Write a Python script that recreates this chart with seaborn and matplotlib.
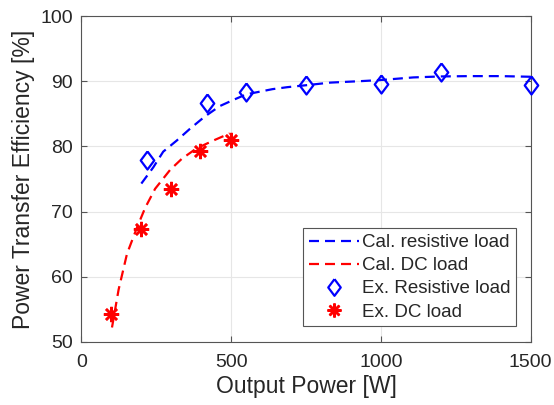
import numpy as np
import pandas as pd
import seaborn as sns
import matplotlib.pyplot as plt
from matplotlib.lines import Line2D

# calculated curves
cal_res_power = [200, 240, 273, 318, 362, 412, 462, 505, 550, 638, 687, 750, 830, 941, 1000, 1108, 1200, 1298, 1400, 1500]
cal_res_eff = [74.3, 76.8, 79.2, 80.9, 82.7, 84.6, 86.2, 87.1, 88.0, 88.8, 89.1, 89.4, 89.8, 90.05, 90.2, 90.6, 90.75, 90.8, 90.8, 90.7]

cal_dc_power = [102, 124, 152, 185, 213, 246, 296, 335, 384, 445, 495]
cal_dc_eff = [52.2, 58.0, 63.5, 67.5, 70.6, 73.5, 76.4, 78.1, 79.7, 81.0, 82.0]

# measured points
ex_res_power = [220, 418, 550, 750, 1000, 1200, 1500]
ex_res_eff = [77.9, 86.6, 88.4, 89.4, 89.6, 91.5, 89.4]

ex_dc_power = [100, 198, 298, 397, 498]
ex_dc_eff = [54.3, 67.4, 73.4, 79.3, 81.0]

x_ticks = [0, 500, 1000, 1500]
y_ticks = [50, 60, 70, 80, 90, 100]

sns.set_theme(style="white")
plt.rcParams["font.family"] = ["Liberation Sans", "DejaVu Sans"]
text_color = "#262626"

cal_res_df = pd.DataFrame({"power": cal_res_power, "eff": cal_res_eff})
cal_dc_df = pd.DataFrame({"power": cal_dc_power, "eff": cal_dc_eff})
ex_res_df = pd.DataFrame({"power": ex_res_power, "eff": ex_res_eff})
ex_dc_df = pd.DataFrame({"power": ex_dc_power, "eff": ex_dc_eff})

fig = plt.figure(figsize=(5.54, 4.05), dpi=100)
ax = fig.add_axes([0.147, 0.156, 0.811, 0.804])

dash = (4.5, 2.7)
sns.lineplot(data=cal_res_df, x="power", y="eff", ax=ax, color="#0000ff",
             linewidth=1.6, dashes=False, sort=False, zorder=3)
sns.lineplot(data=cal_dc_df, x="power", y="eff", ax=ax, color="#ff0000",
             linewidth=1.6, dashes=False, sort=False, zorder=3)
for ln in ax.lines:
    ln.set_dashes(dash)

diamond = [(0, 1), (0.75, 0), (0, -1), (-0.75, 0), (0, 1)]
ax.plot(ex_res_df["power"], ex_res_df["eff"], linestyle="none", marker=diamond,
        markersize=13, markerfacecolor="none", markeredgecolor="#0000ff",
        markeredgewidth=1.6, zorder=4, clip_on=False)
ax.plot(ex_dc_df["power"], ex_dc_df["eff"], linestyle="none", marker=(8, 2, 0),
        markersize=11, markeredgecolor="#ff0000", markeredgewidth=1.8,
        zorder=4, clip_on=False)

ax.set_xlim(0, 1500)
ax.set_ylim(50, 100)
ax.set_xticks(x_ticks)
ax.set_yticks(y_ticks)
ax.grid(True, color="#e6e6e6", linewidth=0.8)
ax.set_axisbelow(True)
ax.tick_params(direction="in", length=4, width=0.8, colors="#555555",
               labelcolor=text_color, labelsize=14, top=True, right=True,
               bottom=True, left=True, pad=6)
ax.tick_params(axis="x", pad=9)
for sp in ax.spines.values():
    sp.set_visible(True)
    sp.set_color("#555555")
    sp.set_linewidth(0.8)

ax.set_xlabel("Output Power [W]", fontsize=16.5, color=text_color, labelpad=3)
ax.set_ylabel("Power Transfer Efficiency [%]", fontsize=16.5, color=text_color, labelpad=4)

handles = [
    Line2D([], [], color="#0000ff", linewidth=1.6, dashes=dash),
    Line2D([], [], color="#ff0000", linewidth=1.6, dashes=dash),
    Line2D([], [], linestyle="none", marker=diamond, markersize=12,
           markerfacecolor="none", markeredgecolor="#0000ff", markeredgewidth=1.6),
    Line2D([], [], linestyle="none", marker=(8, 2, 0), markersize=10,
           markeredgecolor="#ff0000", markeredgewidth=1.8),
]
labels = ["Cal. resistive load", "Cal. DC load", "Ex. Resistive load", "Ex. DC load"]
leg = ax.legend(handles, labels, loc="lower right", bbox_to_anchor=(0.968, 0.048),
                borderaxespad=0, fontsize=13.5, frameon=True, fancybox=False,
                edgecolor="#555555", framealpha=1, handlelength=2.7,
                handletextpad=0.15, labelspacing=0.32, borderpad=0.3)
leg.get_frame().set_linewidth(0.8)
for t in leg.get_texts():
    t.set_color(text_color)

fig.savefig("out.png", dpi=100)
